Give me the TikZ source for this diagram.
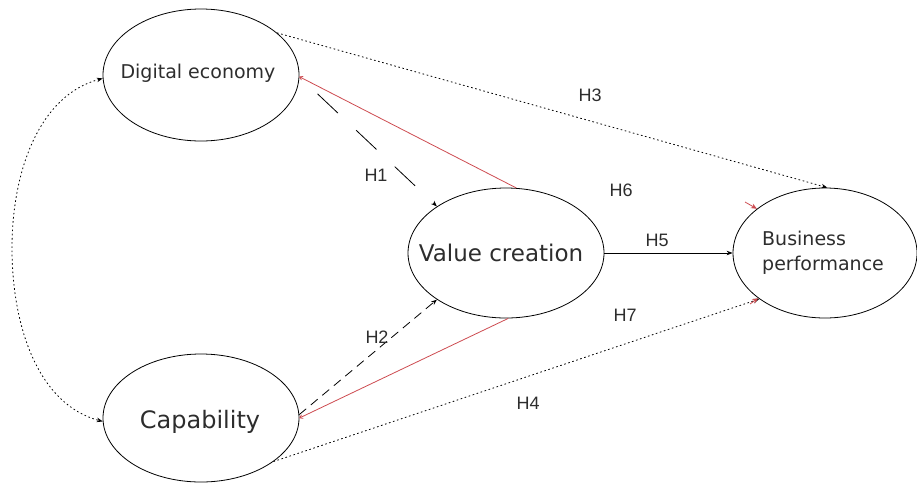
\documentclass[tikz,border=0pt]{standalone}
\usepackage{fontspec}
\setmainfont{DejaVu Sans}
\newfontfamily\hfont{Liberation Sans}
\usetikzlibrary{shapes.geometric,arrows.meta}
\definecolor{txt}{RGB}{45,45,45}
\definecolor{redl}{RGB}{205,75,80}
\tikzset{
  oval/.style={draw=black, line width=0.8pt, ellipse, inner sep=0pt},
  lbl/.style={text=txt, inner sep=0pt, font=\hfont\fontsize{18}{20}\selectfont},
  conn/.style={line width=0.8pt, draw=black},
  tip/.style={-{Stealth[length=6pt,width=4.5pt]}},
  dots/.style={dash pattern=on 1.6pt off 2.6pt},
  longdash/.style={dash pattern=on 28pt off 25pt, dash phase=28pt},
  shortdash/.style={dash pattern=on 9pt off 6pt},
  redline/.style={line width=0.8pt, draw=redl}
}
\begin{document}
\begin{tikzpicture}[x=1pt,y=-1pt]
\useasboundingbox (0,0) rectangle (917,483);
% ellipses
\node[oval, minimum width=196pt, minimum height=132pt] (DE) at (201,75) {};
\node[oval, minimum width=196pt, minimum height=128pt] (CA) at (201,418) {};
\node[oval, minimum width=196pt, minimum height=130pt] (VC) at (506,253) {};
\node[oval, minimum width=184pt, minimum height=130pt] (BP) at (825,253) {};
% texts
\node[text=txt, inner sep=0pt, font=\fontsize{19}{22}\selectfont] (DEt) at (198,73) {Digital economy};
\node[text=txt, inner sep=0pt, font=\fontsize{24}{28}\selectfont] (CAt) at (200,422) {Capability};
\node[text=txt, inner sep=0pt, font=\fontsize{23}{27}\selectfont] (VCt) at (501,253) {Value creation};
\node[text=txt, inner sep=0pt, align=left, anchor=west, font=\fontsize{19}{25}\selectfont] (BPt) at (762,253) {Business\\performance};
% left curved link
\coordinate (L1) at (DE.182);
\coordinate (L2) at (CA.182);
\draw[conn, dots, {Stealth[length=6pt,width=4.5pt]}-{Stealth[length=6pt,width=4.5pt]}]
  (L1) .. controls (40,95) and (12,170) .. (12,248) .. controls (12,330) and (40,405) .. (L2);
% red lines
\draw[redline, {To[length=3.5pt,width=4.5pt]}-] (DE.-1) -- (VC.81);
\draw[redline, {To[length=3.5pt,width=4.5pt]}-] (CA.0) -- (VC.272);
% H1, H2
\draw[conn, longdash, tip] (DE.-1) -- (VC.146);
\draw[conn, shortdash, tip] (CA.2) -- (VC.214);
% H3, H4
\draw[conn, dots, tip] (DE.29) -- (BP.88);
\draw[conn, dots, tip] (CA.-31) -- (BP.215);
% H5
\draw[conn, tip] (VC.east) -- (BP.west);
% red arrowheads at business performance
\coordinate (r6) at (745,202);
\coordinate (r7) at (750,304);
\draw[redline, -{Stealth[length=6pt,width=5pt]}] (r6) -- (BP.147);
\draw[redline, -{Stealth[length=6pt,width=5pt]}] (r7) -- (BP.214);
% labels
\node[lbl] (h1) at (376,175) {H1};
\node[lbl] (h2) at (377,337) {H2};
\node[lbl] (h3) at (590,95) {H3};
\node[lbl] (h4) at (528,403) {H4};
\node[lbl] (h5) at (657,240) {H5};
\node[lbl] (h6) at (621,190) {H6};
\node[lbl] (h7) at (625,315) {H7};
\end{tikzpicture}
\end{document}
